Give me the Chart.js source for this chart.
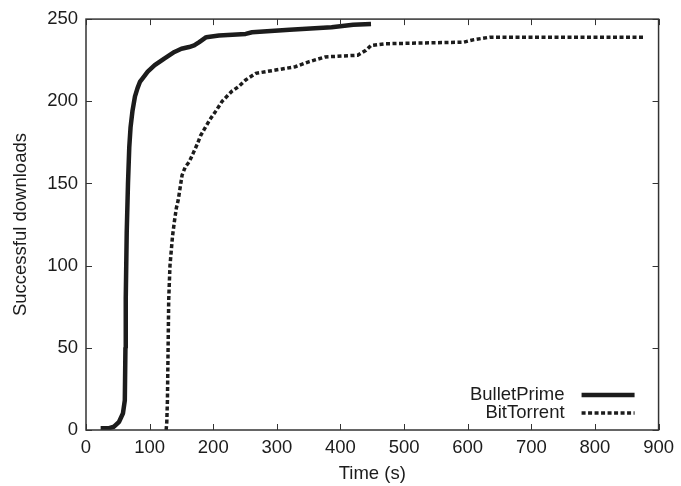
<!DOCTYPE html>
<html>
<head>
<meta charset="utf-8">
<script src="https://cdn.jsdelivr.net/npm/chart.js@4/dist/chart.umd.min.js"></script>
<style>
  html, body { margin: 0; padding: 0; background: #fff; }
  #wrap { width: 681px; height: 486px; }
</style>
</head>
<body>
<div id="wrap"><canvas id="c" width="681" height="486"></canvas></div>
<script>
// Cumulative successful downloads over time for the two systems
const bulletPrimeTime  = [23, 35, 44, 52, 58, 61, 62, 62.5, 64, 66, 68, 70, 73, 77, 81, 85, 89, 97, 108, 123, 139, 150, 162, 170, 178, 189, 209, 251, 261, 320, 386, 420, 448];
const bulletPrimeCount = [1, 1, 2, 5, 10, 18, 50, 80, 120, 150, 172, 184, 194, 203, 208, 212, 214, 218, 222, 226, 230, 232, 233, 234, 236, 239, 240, 241, 242, 243.5, 245, 246.5, 247];

const bitTorrentTime  = [126, 127, 128, 129, 130, 132, 134, 136, 139, 142, 145, 151, 156, 162, 168, 175, 180, 186, 195, 204, 214, 229, 240, 251, 267, 298, 329, 350, 376, 427, 440, 448, 470, 594, 610, 635, 877];
const bitTorrentCount = [0, 5, 18, 48, 79, 100, 109, 118, 127, 135, 140, 155, 160, 163, 168, 174, 179, 183, 189, 194, 200, 206, 209, 213, 217, 219, 221, 224, 227, 228, 231, 234, 235, 236, 237.5, 239, 239];

const seriesNames = ['BulletPrime', 'BitTorrent'];
const xTicks = [0, 100, 200, 300, 400, 500, 600, 700, 800, 900];
const yTicks = [0, 50, 100, 150, 200, 250];

const toPoints = (xs, ys) => xs.map((x, i) => ({ x: x, y: ys[i] }));

const INK = '#1c1c1c';
const FONT = "'Liberation Sans', Arial, sans-serif";
const FSIZE = 18.5;

// Frame, inward tick marks on all four sides, and the legend in the lower right
const framePlugin = {
  id: 'frame',
  afterDraw(chart) {
    const { ctx, chartArea: a, scales } = chart;
    ctx.save();
    ctx.strokeStyle = '#333';
    ctx.lineWidth = 1.5;
    ctx.strokeRect(a.left, a.top, a.right - a.left, a.bottom - a.top);
    ctx.lineWidth = 1;
    const len = 6;
    ctx.beginPath();
    xTicks.forEach(v => {
      const px = Math.round(scales.x.getPixelForValue(v)) + 0.5;
      ctx.moveTo(px, a.bottom); ctx.lineTo(px, a.bottom - len);
      ctx.moveTo(px, a.top); ctx.lineTo(px, a.top + len);
    });
    yTicks.forEach(v => {
      const py = Math.round(scales.y.getPixelForValue(v)) + 0.5;
      ctx.moveTo(a.left, py); ctx.lineTo(a.left + len, py);
      ctx.moveTo(a.right, py); ctx.lineTo(a.right - len, py);
    });
    ctx.stroke();

    // legend
    ctx.font = FSIZE + 'px ' + FONT;
    ctx.fillStyle = INK;
    ctx.textAlign = 'right';
    ctx.textBaseline = 'middle';
    const textRight = a.right - 94;
    const lineL = a.right - 77, lineR = a.right - 24;
    const rows = [a.bottom - 35, a.bottom - 17];
    chart.data.datasets.forEach((ds, i) => {
      ctx.fillText(ds.label, textRight, rows[i]);
      ctx.beginPath();
      ctx.strokeStyle = ds.borderColor;
      ctx.lineWidth = ds.borderWidth;
      ctx.setLineDash(ds.borderDash || []);
      ctx.lineCap = 'butt';
      ctx.moveTo(lineL, rows[i]);
      ctx.lineTo(lineR, rows[i]);
      ctx.stroke();
    });
    ctx.setLineDash([]);
    ctx.restore();
  }
};

new Chart(document.getElementById('c'), {
  type: 'line',
  data: {
    datasets: [
      {
        label: seriesNames[0],
        data: toPoints(bulletPrimeTime, bulletPrimeCount),
        borderColor: INK,
        borderWidth: 4.5,
        pointRadius: 0,
        tension: 0,
        borderJoinStyle: 'round'
      },
      {
        label: seriesNames[1],
        data: toPoints(bitTorrentTime, bitTorrentCount),
        borderColor: INK,
        borderWidth: 3.5,
        borderDash: [4, 2.5],
        borderCapStyle: 'butt',
        pointRadius: 0,
        tension: 0
      }
    ]
  },
  options: {
    responsive: false,
    animation: false,
    layout: { padding: { left: 0, right: 20, top: 17, bottom: 0 } },
    plugins: { legend: { display: false }, tooltip: { enabled: false } },
    scales: {
      x: {
        type: 'linear',
        min: 0, max: 900,
        afterBuildTicks: s => { s.ticks = xTicks.map(v => ({ value: v })); },
        afterFit: s => { s.height = 56; },
        grid: { display: false, drawTicks: false },
        border: { display: false },
        ticks: { color: INK, font: { family: FONT, size: FSIZE }, padding: 7, maxRotation: 0 },
        title: { display: true, text: 'Time (s)', color: INK, font: { family: FONT, size: FSIZE }, padding: { top: 4, bottom: 1 } }
      },
      y: {
        type: 'linear',
        min: 0, max: 250,
        afterBuildTicks: s => { s.ticks = yTicks.map(v => ({ value: v })); },
        afterFit: s => { s.width = 86; },
        grid: { display: false, drawTicks: false },
        border: { display: false },
        ticks: { color: INK, font: { family: FONT, size: FSIZE }, padding: 8 },
        title: { display: true, text: 'Successful downloads', color: INK, font: { family: FONT, size: FSIZE }, padding: { top: 10, bottom: 0 } }
      }
    }
  },
  plugins: [framePlugin]
});
</script>
</body>
</html>
